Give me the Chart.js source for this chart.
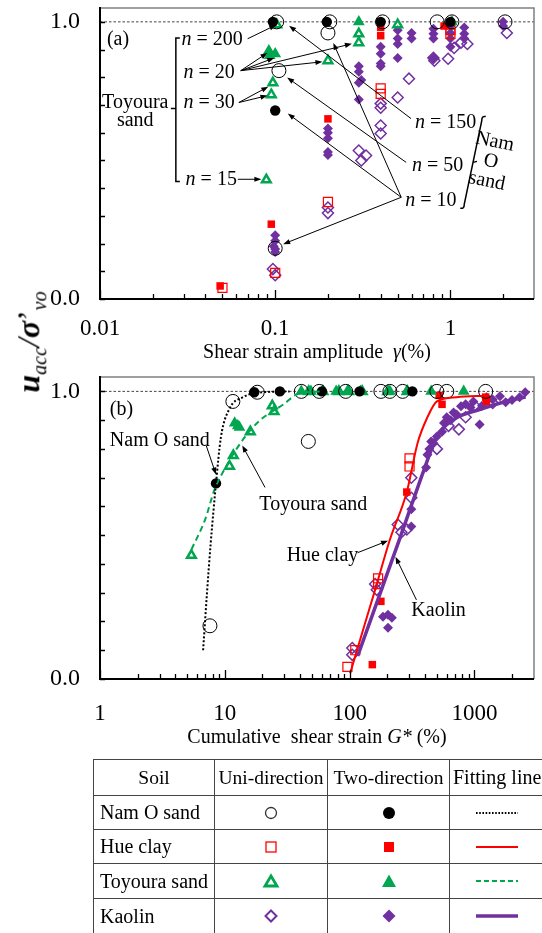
<!DOCTYPE html>
<html>
<head>
<meta charset="utf-8">
<script src="https://cdn.jsdelivr.net/npm/chart.js@4.4.1/dist/chart.umd.min.js"></script>
<style>
  body { margin: 0; width: 542px; height: 933px; overflow: hidden; background: #fff; position: relative;
         font-family: "Liberation Serif", "Times New Roman", serif; }
  canvas { position: absolute; left: 0; }
  #chartA { top: 0; }
  #chartB { top: 362px; }
  #ytitle { position: absolute; left: 31px; top: 342px; transform: translate(-50%, -50%) rotate(-90deg);
            white-space: nowrap; font-size: 32px; line-height: 1; color: #000; }
  #ytitle sub { font-size: 20px; }
  #legendTable { position: absolute; left: 93px; top: 759px; border-collapse: collapse; table-layout: fixed;
                 width: 470px; font-size: 19.5px; }
  #legendTable th, #legendTable td { border: 1.5px solid #444; padding: 0; font-weight: normal;
                 text-align: center; white-space: nowrap; overflow: hidden; }
  #legendTable td.name { text-align: left; padding-left: 6px; font-size: 20px; }
  #legendTable th.fit { text-align: left; padding-left: 3px; font-size: 20px; }
  #legendTable td.line { text-align: left; padding-left: 26px; }
  svg { display: block; margin: 0 auto; }
  td.line svg { margin: 0; }
</style>
</head>
<body>
<canvas id="chartA" width="542" height="362" style="width:542px;height:362px"></canvas>
<canvas id="chartB" width="542" height="398" style="width:542px;height:398px"></canvas>
<div id="ytitle"><b><i>u</i></b><sub><i>acc</i></sub><i>/</i><b><i>σ</i></b>’<sub><i>vo</i></sub></div>

<table id="legendTable">
  <colgroup><col style="width:121px"><col style="width:113px"><col style="width:122px"><col style="width:114px"></colgroup>
  <tr style="height:36px"><th>Soil</th><th>Uni-direction</th><th>Two-direction</th><th class="fit">Fitting line</th></tr>
  <tr style="height:34px"><td class="name">Nam O sand</td>
    <td><svg width="16" height="16"><circle cx="8" cy="8" r="5.5" fill="none" stroke="#333" stroke-width="1.3"/></svg></td>
    <td><svg width="16" height="16"><circle cx="8" cy="8" r="6" fill="#000"/></svg></td>
    <td class="line"><svg width="44" height="6"><line x1="0" y1="3" x2="42" y2="3" stroke="#000" stroke-width="2" stroke-dasharray="1.6 1.6"/></svg></td></tr>
  <tr style="height:34px"><td class="name">Hue clay</td>
    <td><svg width="16" height="16"><rect x="3" y="3" width="10" height="10" fill="none" stroke="#ff0000" stroke-width="1.3"/></svg></td>
    <td><svg width="16" height="16"><rect x="3" y="3" width="10" height="10" fill="#ff0000"/></svg></td>
    <td class="line"><svg width="44" height="6"><line x1="0" y1="3" x2="42" y2="3" stroke="#ff0000" stroke-width="2"/></svg></td></tr>
  <tr style="height:35px"><td class="name">Toyoura sand</td>
    <td><svg width="18" height="16"><polygon points="9,3 15,13 3,13" fill="none" stroke="#00a650" stroke-width="2.8"/></svg></td>
    <td><svg width="18" height="16"><polygon points="9,1.5 16,14 2,14" fill="#00a650"/></svg></td>
    <td class="line"><svg width="44" height="6"><line x1="0" y1="3" x2="42" y2="3" stroke="#00a650" stroke-width="2" stroke-dasharray="5 3"/></svg></td></tr>
  <tr style="height:35px"><td class="name">Kaolin</td>
    <td><svg width="16" height="16"><polygon points="8,2.5 13.5,8 8,13.5 2.5,8" fill="none" stroke="#7030a0" stroke-width="2"/></svg></td>
    <td><svg width="16" height="16"><polygon points="8,1.5 14.5,8 8,14.5 1.5,8" fill="#7030a0"/></svg></td>
    <td class="line"><svg width="44" height="6"><line x1="0" y1="3" x2="42" y2="3" stroke="#7030a0" stroke-width="3.5"/></svg></td></tr>
</table>

<script>
const FONT = '"Liberation Serif", "Times New Roman", serif';
const BLACK = '#000000', RED = '#ff0000', GREEN = '#00a650', PURPLE = '#7030a0';

// ---- (a) pore pressure ratio vs shear strain amplitude (%), [x, y]
const namoUniA = [[0.102, 1.0], [0.205, 1.0], [0.41, 1.0], [0.84, 1.0], [1.02, 1.0], [2.05, 1.0],
  [0.2, 0.96], [0.105, 0.824], [0.1, 0.183]];
const namoTwoA = [[0.097, 1.0], [0.197, 1.0], [0.4, 1.0], [1.0, 1.0], [0.1, 0.68]];
const hueUniA = [[0.05, 0.04], [0.1, 0.094], [0.2, 0.35], [0.4, 0.76], [0.4, 0.74], [1.0, 0.97], [1.0, 0.957]];
const hueTwoA = [[0.0485, 0.047], [0.095, 0.27], [0.2, 0.65], [0.4, 0.98], [0.4, 0.95], [0.92, 0.985]];
const toyUniA = [[0.102, 0.99], [0.5, 0.99], [0.3, 0.957], [0.3, 0.925], [0.2, 0.86], [0.097, 0.78],
  [0.095, 0.737], [0.089, 0.43]];
const toyTwoA = [[0.3, 1.0], [1.02, 1.0], [0.092, 0.896], [0.093, 0.878], [0.1, 0.885]];
const kaoUniA = [[0.097, 0.108], [0.1, 0.086], [0.2, 0.33], [0.2, 0.31], [0.3, 0.536], [0.33, 0.518],
  [0.31, 0.5], [0.4, 0.705], [0.4, 0.69], [0.4, 0.626], [0.4, 0.597], [0.5, 0.727], [0.58, 0.795],
  [0.8, 0.87], [0.81, 0.86], [0.97, 0.867], [1.05, 0.906], [1.15, 0.925], [1.25, 0.92], [2.1, 0.96]];
const kaoTwoA = [[0.1, 0.23], [0.1, 0.21], [0.098, 0.19], [0.1, 0.18], [0.1, 0.17],
  [0.2, 0.615], [0.2, 0.6], [0.2, 0.58], [0.2, 0.53], [0.2, 0.52],
  [0.3, 0.84], [0.3, 0.82], [0.31, 0.79], [0.3, 0.78], [0.3, 0.72],
  [0.4, 0.91], [0.4, 0.885], [0.4, 0.85], [0.4, 0.84],
  [0.5, 0.97], [0.5, 0.94], [0.5, 0.92], [0.5, 0.87], [0.6, 0.96], [0.6, 0.94],
  [0.8, 0.975], [0.8, 0.957], [0.8, 0.94], [0.8, 0.87],
  [1.0, 0.985], [1.0, 0.96], [1.0, 0.94], [1.0, 0.91],
  [1.2, 0.98], [1.2, 0.957], [1.2, 0.94], [2.0, 1.0], [2.0, 0.985]];

// ---- (b) pore pressure ratio vs cumulative shear strain G* (%)
const namoUniB = [[7.6, 0.185], [11.6, 0.965], [18.2, 0.997], [46.7, 0.826], [41, 1.0], [57, 1.0], [93, 1.0],
  [178, 1.0], [210, 1.0], [266, 1.0], [500, 1.0], [600, 1.0], [1230, 1.0]];
const namoTwoB = [[8.5, 0.68], [17.2, 0.997], [27.6, 1.0], [60, 1.0], [120, 1.0], [318, 1.0]];
const hueUniB = [[96, 0.042], [111, 0.1], [169, 0.35], [169, 0.33], [302, 0.767], [302, 0.739]];
const hueTwoB = [[152, 0.05], [178, 0.27], [287, 0.65], [522, 0.986], [550, 0.955], [1230, 0.98], [1250, 0.965]];
const toyUniB = [[5.4, 0.43], [10.9, 0.74], [11.7, 0.777], [16, 0.86], [24, 0.95], [24.8, 0.93],
  [47, 1.0], [61, 1.0], [82, 1.0], [98, 1.0], [126, 1.0], [202, 1.0], [290, 1.0]];
const toyTwoB = [[12, 0.89], [12.7, 0.88], [13.1, 0.875], [41, 1.0], [49, 1.0], [61, 1.0], [78, 1.0],
  [96, 1.0], [122, 1.0], [210, 1.0], [287, 1.0], [450, 1.0], [820, 1.0]];
const kaoUniB = [[105, 0.108], [105, 0.084], [160, 0.33], [165, 0.31], [243, 0.537], [260, 0.51], [287, 0.52],
  [312, 0.7], [312, 0.63], [500, 0.8], [620, 0.88], [750, 0.868], [850, 0.91], [1000, 0.95], [1400, 0.96]];
const kaoTwoB = [[185, 0.216], [203, 0.223], [218, 0.213], [203, 0.178], [312, 0.53], [312, 0.59],
  [410, 0.735], [420, 0.78], [435, 0.8], [450, 0.826], [470, 0.82], [500, 0.843], [550, 0.86], [570, 0.89],
  [600, 0.91], [645, 0.9], [680, 0.927], [720, 0.92], [780, 0.948], [850, 0.955], [930, 0.944], [980, 0.965],
  [1100, 0.885], [1150, 0.95], [1250, 0.98], [1400, 0.972], [1600, 0.983], [1780, 0.962], [2000, 0.97],
  [2300, 0.98], [2550, 0.997]];

// fitting lines (b)
const namoFit = [[6.7, 0.1], [7.2, 0.3], [7.7, 0.47], [8.5, 0.68], [9.3, 0.84], [10.9, 0.94], [14, 0.98],
  [18, 0.995], [33, 1.0]];
const hueFit = [[101, 0.02], [130, 0.18], [160, 0.31], [210, 0.484], [287, 0.65], [350, 0.82], [420, 0.91],
  [500, 0.965], [720, 0.98], [1250, 0.985]];
const toyFit = [[5.4, 0.45], [6.95, 0.554], [8.3, 0.66], [10.6, 0.75], [14.4, 0.84], [19.2, 0.9],
  [29.6, 0.955], [38, 0.99], [60, 1.0]];
const kaoFit = [[116, 0.08], [250, 0.484], [318, 0.613], [395, 0.728], [500, 0.843], [680, 0.902],
  [1100, 0.937], [1780, 0.965], [2570, 0.98]];

// axis labels
const xTicksA = [0.01, 0.1, 1];
const xTickLabelsA = ['0.01', '0.1', '1'];
const xTicksB = [1, 10, 100, 1000];
const xTickLabelsB = ['1', '10', '100', '1000'];
const yTicks = [0, 1];
const yTickLabels = ['0.0', '1.0'];

const pts = arr => arr.map(([x, y]) => ({ x, y }));

function marks(label, arr, style, color, filled, r, bw) {
  return {
    label, data: pts(arr), pointStyle: style, pointRadius: r, pointHoverRadius: r,
    pointBackgroundColor: filled ? color : 'rgba(0,0,0,0)', pointBorderColor: color,
    pointBorderWidth: filled ? 0 : bw, showLine: false, clip: false
  };
}

function fitLine(label, arr, color, width, dash) {
  return {
    label, data: pts(arr), showLine: true, borderColor: color, borderWidth: width, borderDash: dash,
    pointRadius: 0, cubicInterpolationMode: 'monotone', fill: false, order: 0
  };
}

function soilSets(s) {
  const list = [
    marks('Kaolin uni', s.kaoUni, 'rectRot', PURPLE, false, 5.5, 1.5),
    marks('Kaolin two', s.kaoTwo, 'rectRot', PURPLE, true, 5),
    marks('Hue clay uni', s.hueUni, 'rect', RED, false, 6.4, 1.2),
    marks('Hue clay two', s.hueTwo, 'rect', RED, true, 5.3),
    marks('Toyoura uni', s.toyUni, 'triangle', GREEN, false, 5, 2.5),
    marks('Toyoura two', s.toyTwo, 'triangle', GREEN, true, 6.8),
    marks('Nam O two', s.namoTwo, 'circle', BLACK, true, 5.2),
    marks('Nam O uni', s.namoUni, 'circle', BLACK, false, 7, 1)
  ];
  // later entries sit on top
  list.forEach((d, i) => { d.order = list.length - i + 1; });
  return list;
}

function logTickList(min, max) {
  const out = [];
  for (let e = Math.floor(Math.log10(min)); Math.pow(10, e) <= max; e++) {
    for (let m = 1; m < 10; m++) {
      const v = m * Math.pow(10, e);
      if (v >= min * 0.999 && v < max * 0.999) out.push({ v, major: m === 1 });
    }
  }
  return out;
}

const zeroPad = s => { s.paddingLeft = 0; s.paddingRight = 0; s.paddingTop = 0; s.paddingBottom = 0; };

function makeScales(xMin, xMax, xTicks, xLabels, xPad, xHeight) {
  return {
    x: {
      type: 'logarithmic', min: xMin, max: xMax,
      grid: { display: false, drawTicks: false }, border: { display: false },
      afterBuildTicks: s => { s.ticks = xTicks.map(v => ({ value: v })); },
      afterFit: s => { s.height = xHeight; zeroPad(s); },
      ticks: {
        autoSkip: false, maxRotation: 0, padding: xPad, color: '#000', font: { family: FONT, size: 23 },
        callback: v => { const i = xTicks.findIndex(t => Math.abs(t - v) < t * 1e-6); return i < 0 ? '' : xLabels[i]; }
      }
    },
    y: {
      type: 'linear', min: 0, max: 1.05,
      grid: { display: false, drawTicks: false }, border: { display: false },
      afterBuildTicks: s => { s.ticks = yTicks.map(v => ({ value: v })); },
      afterFit: s => { s.width = 100; zeroPad(s); },
      ticks: {
        autoSkip: false, padding: 20, color: '#000', font: { family: FONT, size: 24 },
        callback: v => { const i = yTicks.findIndex(t => Math.abs(t - v) < 1e-6); return i < 0 ? '' : yTickLabels[i]; }
      }
    }
  };
}

const N = (num) => [['n', 1], [' = ' + num, 0]];

// annotations, in data coordinates of each panel
const decor = {
  chartA: {
    xMin: 0.01, xMax: 3, titleY: 353,
    title: [['Shear strain amplitude  ', 0], ['γ', 1], ['(%)', 0]],
    texts: [
      { x: 0.01095, y: 0.937, parts: [['(a)', 0]] },
      { x: 0.0292, y: 0.934, parts: N(200) },
      { x: 0.030, y: 0.817, parts: N(20) },
      { x: 0.030, y: 0.709, parts: N(30) },
      { x: 0.0308, y: 0.432, parts: N(15) },
      { x: 0.0159, y: 0.709, parts: [['Toyoura', 0]], align: 'center' },
      { x: 0.0159, y: 0.644, parts: [['sand', 0]], align: 'center' },
      { x: 0.628, y: 0.637, parts: N(150) },
      { x: 0.604, y: 0.482, parts: N(50) },
      { x: 0.552, y: 0.356, parts: N(10) }
    ],
    arrows: [
      [0.0696, 0.939, 0.1013, 0.989],
      [0.0636, 0.824, 0.0903, 0.888], [0.0636, 0.824, 0.0987, 0.870],
      [0.0636, 0.824, 0.274, 0.921], [0.0636, 0.824, 0.186, 0.856],
      [0.062, 0.709, 0.0913, 0.766], [0.062, 0.709, 0.0903, 0.734],
      [0.0612, 0.432, 0.0834, 0.432],
      [0.596, 0.651, 0.12, 0.986],
      [0.559, 0.493, 0.117, 0.799],
      [0.524, 0.367, 0.118, 0.669], [0.524, 0.367, 0.2146, 0.924], [0.524, 0.367, 0.111, 0.198]
    ],
    brackets: true
  },
  chartB: {
    xMin: 1, xMax: 3000, titleY: 376,
    title: [['Cumulative  shear strain ', 0], ['G*', 1], [' (%)', 0]],
    texts: [
      { x: 1.199, y: 0.936, parts: [['(b)', 0]] },
      { x: 1.199, y: 0.829, parts: [['Nam O sand', 0]] },
      { x: 18.9, y: 0.606, parts: [['Toyoura sand', 0]] },
      { x: 31.3, y: 0.429, parts: [['Hue clay', 0]] },
      { x: 312, y: 0.237, parts: [['Kaolin', 0]] }
    ],
    arrows: [
      [7.09, 0.812, 8.5, 0.711],
      [21.0, 0.666, 13.8, 0.812],
      [115.6, 0.439, 203, 0.481],
      [343, 0.275, 233, 0.425]
    ]
  }
};

function drawParts(ctx, x, y, parts, size, align) {
  const fontOf = it => (it ? 'italic ' : '') + size + 'px ' + FONT;
  const widths = parts.map(([t, it]) => { ctx.font = fontOf(it); return ctx.measureText(t).width; });
  const total = widths.reduce((a, b) => a + b, 0);
  let cx = align === 'center' ? x - total / 2 : x;
  ctx.textAlign = 'left';
  ctx.textBaseline = 'middle';
  parts.forEach(([t, it], i) => { ctx.font = fontOf(it); ctx.fillText(t, cx, y); cx += widths[i]; });
}

function arrow(ctx, x0, y0, x1, y1) {
  const a = Math.atan2(y1 - y0, x1 - x0), L = 7, W = 2.6;
  ctx.beginPath(); ctx.moveTo(x0, y0); ctx.lineTo(x1 - 3 * Math.cos(a), y1 - 3 * Math.sin(a)); ctx.stroke();
  ctx.beginPath();
  ctx.moveTo(x1, y1);
  ctx.lineTo(x1 - L * Math.cos(a) + W * Math.sin(a), y1 - L * Math.sin(a) - W * Math.cos(a));
  ctx.lineTo(x1 - L * Math.cos(a) - W * Math.sin(a), y1 - L * Math.sin(a) + W * Math.cos(a));
  ctx.closePath(); ctx.fill();
}

const panelDecor = {
  id: 'panelDecor',
  beforeDatasetsDraw(chart) {
    // u/σ'vo = 1 reference
    const { ctx, chartArea: a, scales: { y } } = chart;
    const py = y.getPixelForValue(1);
    ctx.save();
    ctx.strokeStyle = '#444'; ctx.lineWidth = 1; ctx.setLineDash([2.5, 2]);
    ctx.beginPath(); ctx.moveTo(a.left, py); ctx.lineTo(a.right, py); ctx.stroke();
    ctx.restore();
  },
  afterDraw(chart) {
    const d = decor[chart.canvas.id];
    const { ctx, chartArea: a, scales: { x, y } } = chart;
    const X = v => x.getPixelForValue(v), Y = v => y.getPixelForValue(v);
    ctx.save();

    // frame: grey top/right, black axes
    ctx.strokeStyle = '#808080'; ctx.lineWidth = 1.5;
    ctx.beginPath(); ctx.moveTo(a.left, a.top); ctx.lineTo(a.right, a.top); ctx.lineTo(a.right, a.bottom); ctx.stroke();
    ctx.strokeStyle = '#000'; ctx.lineWidth = 2;
    ctx.beginPath(); ctx.moveTo(a.left, a.top - 1); ctx.lineTo(a.left, a.bottom); ctx.lineTo(a.right, a.bottom); ctx.stroke();

    // inward ticks
    ctx.lineWidth = 1.3;
    ctx.beginPath();
    logTickList(d.xMin, d.xMax).forEach(t => {
      const px = Math.round(X(t.v)) + 0.5;
      ctx.moveTo(px, a.bottom); ctx.lineTo(px, a.bottom - (t.major ? 9 : 5));
    });
    for (let k = 0; k <= 10; k++) {
      const py = Math.round(Y(k / 10)) + 0.5;
      ctx.moveTo(a.left, py); ctx.lineTo(a.left + 5, py);
    }
    ctx.stroke();

    // axis title
    ctx.fillStyle = '#000';
    drawParts(ctx, (a.left + a.right) / 2, d.titleY, d.title, 20, 'center');

    // notes and arrows
    d.texts.forEach(t => drawParts(ctx, X(t.x), Y(t.y), t.parts, 20, t.align));
    ctx.lineWidth = 1;
    d.arrows.forEach(([x0, y0, x1, y1]) => arrow(ctx, X(x0), Y(y0), X(x1), Y(y1)));

    if (d.brackets) {
      // Toyoura sand bracket
      ctx.lineWidth = 1.5;
      const bx = X(0.0271), bt = Y(0.942), bb = Y(0.424), bm = Y(0.687);
      ctx.beginPath();
      ctx.moveTo(bx + 4, bt); ctx.lineTo(bx, bt); ctx.lineTo(bx, bb); ctx.lineTo(bx + 4, bb);
      ctx.moveTo(bx, bm); ctx.lineTo(bx - 5, bm);
      ctx.stroke();
      // Nam O sand bracket (slanted)
      const tx = X(1.51), ty = Y(0.651), ux = X(1.2), uy = Y(0.335);
      ctx.beginPath();
      ctx.moveTo(tx + 4, ty - 2); ctx.quadraticCurveTo(tx, ty - 3, tx, ty + 2);
      ctx.lineTo(ux, uy - 2); ctx.quadraticCurveTo(ux, uy + 3, ux - 4, uy + 2);
      const mx = (tx + ux) / 2, my = (ty + uy) / 2;
      ctx.moveTo(mx, my); ctx.lineTo(mx + 4, my - 1);
      ctx.stroke();
      ctx.save();
      ctx.translate(X(1.7), Y(0.496));
      ctx.rotate(0.2);
      drawParts(ctx, 0, -20, [['Nam', 0]], 20, 'center');
      drawParts(ctx, 0, 0, [['O', 0]], 20, 'center');
      drawParts(ctx, 0, 20, [['sand', 0]], 20, 'center');
      ctx.restore();
    }
    ctx.restore();
  }
};

const baseOptions = (scales, top) => ({
  responsive: false, animation: false, events: [],
  layout: { padding: { top, right: 2, left: 0, bottom: 0 } },
  plugins: { legend: { display: false }, tooltip: { enabled: false } },
  scales
});

new Chart(document.getElementById('chartA'), {
  type: 'scatter',
  data: {
    datasets: soilSets({
      kaoUni: kaoUniA, kaoTwo: kaoTwoA, hueUni: hueUniA, hueTwo: hueTwoA,
      toyUni: toyUniA, toyTwo: toyTwoA, namoUni: namoUniA, namoTwo: namoTwoA
    })
  },
  options: baseOptions(makeScales(0.01, 3, xTicksA, xTickLabelsA, 16, 63), 7),
  plugins: [panelDecor]
});

new Chart(document.getElementById('chartB'), {
  type: 'scatter',
  data: {
    datasets: [
      fitLine('Nam O sand fit', namoFit, BLACK, 2, [2, 2]),
      fitLine('Hue clay fit', hueFit, RED, 2, []),
      fitLine('Toyoura sand fit', toyFit, GREEN, 2, [6, 4]),
      fitLine('Kaolin fit', kaoFit, PURPLE, 3.5, [])
    ].concat(soilSets({
      kaoUni: kaoUniB, kaoTwo: kaoTwoB, hueUni: hueUniB, hueTwo: hueTwoB,
      toyUni: toyUniB, toyTwo: toyTwoB, namoUni: namoUniB, namoTwo: namoTwoB
    }))
  },
  options: baseOptions(makeScales(1, 3000, xTicksB, xTickLabelsB, 21, 81), 15),
  plugins: [panelDecor]
});
</script>
</body>
</html>
